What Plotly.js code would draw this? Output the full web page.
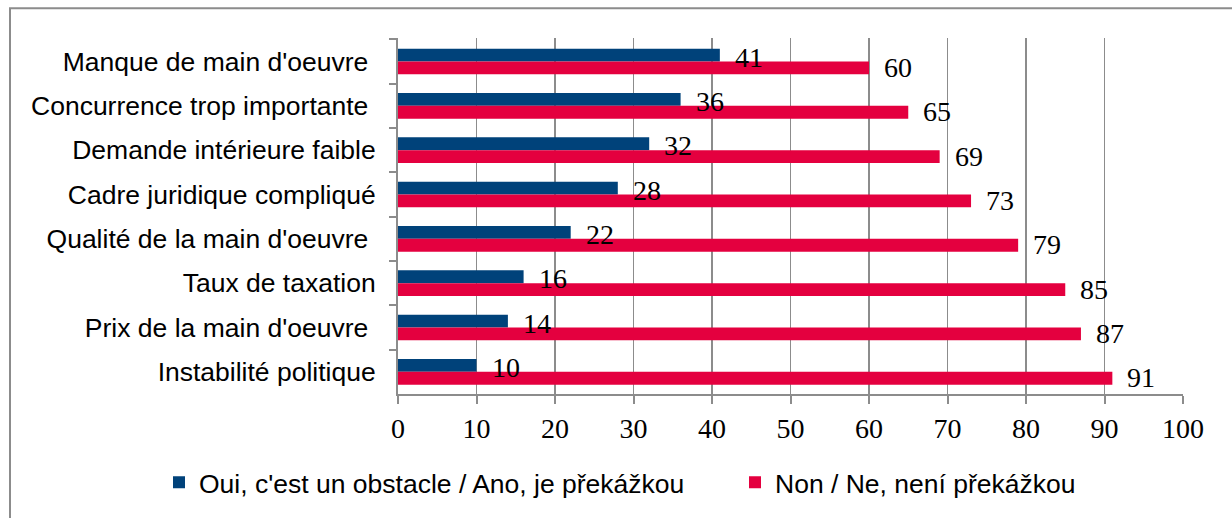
<!DOCTYPE html>
<html>
<head>
<meta charset="utf-8">
<script src="https://cdn.plot.ly/plotly-3.0.1.min.js"></script>
<style>
  html, body { margin: 0; padding: 0; background: #ffffff; }
  #chart { width: 1232px; height: 518px; }
</style>
</head>
<body>
<div id="chart"></div>
<script>
// Categories, top to bottom
const categories = [
  "Manque de main d'oeuvre\u00a0",
  "Concurrence trop importante\u00a0",
  "Demande intérieure faible",
  "Cadre juridique compliqué",
  "Qualité de la main d'oeuvre\u00a0",
  "Taux de taxation",
  "Prix de la main d'oeuvre\u00a0",
  "Instabilité politique"
];
const seriesNames = ["Oui, c'est un obstacle / Ano, je překážkou", "Non / Ne, není překážkou"];
const ouiValues = [41, 36, 32, 28, 22, 16, 14, 10];
const nonValues = [60, 65, 69, 73, 79, 85, 87, 91];
const xTickValues = [0, 10, 20, 30, 40, 50, 60, 70, 80, 90, 100];

const BLUE = '#00427A';
const RED = '#E4003F';
const sansFont = 'Liberation Sans, Arial, sans-serif';
const serifFont = 'Liberation Serif, Times New Roman, serif';

const traces = [
  {
    type: 'bar', orientation: 'h', name: seriesNames[0],
    x: ouiValues, y: categories, legend: 'legend',
    marker: { color: BLUE, line: { width: 0 } },
    hoverinfo: 'x+name'
  },
  {
    type: 'bar', orientation: 'h', name: seriesNames[1],
    x: nonValues, y: categories, legend: 'legend2',
    marker: { color: RED, line: { width: 0 } },
    hoverinfo: 'x+name'
  }
];

// Value labels placed through the data axes
const labelFont = { family: serifFont, size: 28, color: '#000' };
const annotations = [];
categories.forEach((c, i) => {
  annotations.push({
    x: ouiValues[i], y: c, xref: 'x', yref: 'y',
    text: String(ouiValues[i]), showarrow: false,
    xanchor: 'left', yanchor: 'middle', xshift: 13, yshift: 4.5,
    font: labelFont
  });
  annotations.push({
    x: nonValues[i], y: c, xref: 'x', yref: 'y',
    text: String(nonValues[i]), showarrow: false,
    xanchor: 'left', yanchor: 'middle', xshift: 13, yshift: -6,
    font: labelFont
  });
});

// plot area: left 398, right 1183, top 38, bottom 396
const L = 398, R = 1183, T = 38, B = 396;
const PW = R - L, PH = B - T;
const px2x = p => (p - L) / PW;
const px2y = p => (B - p) / PH;

const legendBase = {
  orientation: 'h', xanchor: 'left', y: px2y(485), yanchor: 'middle',
  font: { family: sansFont, size: 26.5, color: '#000' },
  itemwidth: 30, bgcolor: 'rgba(0,0,0,0)', borderwidth: 0
};

const layout = {
  width: 1232, height: 518,
  margin: { l: L, r: 1232 - R, t: T, b: 518 - B, pad: 0 },
  paper_bgcolor: '#ffffff', plot_bgcolor: '#ffffff',
  barmode: 'group', bargap: 0.42, bargroupgap: 0,
  showlegend: true,
  legend: Object.assign({}, legendBase, { x: px2x(159) }),
  legend2: Object.assign({}, legendBase, { x: px2x(735) }),
  xaxis: {
    range: [0, 100], tickvals: xTickValues, ticktext: xTickValues.map(String),
    showgrid: true, gridcolor: '#8C8C8C', gridwidth: 1.6,
    showline: true, linecolor: '#8C8C8C', linewidth: 2,
    ticks: 'outside', ticklen: 8, tickcolor: '#8C8C8C', tickwidth: 2,
    tickfont: { family: serifFont, size: 28, color: '#000' },
    zeroline: false, fixedrange: true
  },
  yaxis: {
    type: 'category', autorange: 'reversed',
    showgrid: false, showline: true, linecolor: '#8C8C8C', linewidth: 2,
    ticks: 'outside', ticklen: 7, tickcolor: '#8C8C8C', tickwidth: 2,
    tickson: 'boundaries', ticklabelstandoff: 15,
    tickfont: { family: sansFont, size: 26.5, color: '#000' },
    zeroline: false, fixedrange: true
  },
  annotations: annotations,
  shapes: [
    {
      type: 'rect', xref: 'paper', yref: 'paper',
      x0: px2x(10), x1: px2x(1240), y0: px2y(530), y1: px2y(8),
      line: { color: '#8C8C8C', width: 2 }, fillcolor: 'rgba(0,0,0,0)', layer: 'below'
    }
  ]
};

Plotly.newPlot('chart', traces, layout, { displayModeBar: false, staticPlot: true });
</script>
</body>
</html>
